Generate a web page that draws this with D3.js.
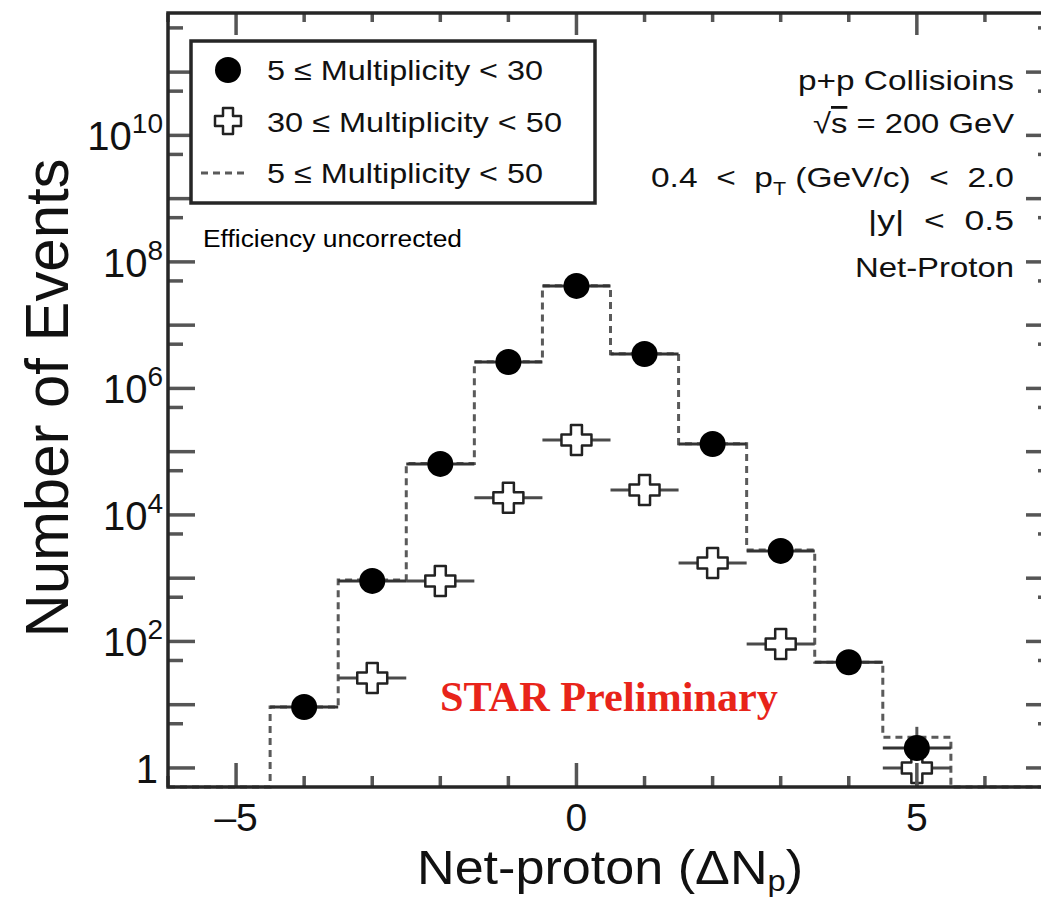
<!DOCTYPE html>
<html>
<head>
<meta charset="utf-8">
<script src="https://cdn.jsdelivr.net/npm/d3@7"></script>
<style>
  html, body { margin: 0; padding: 0; background: #fff; }
  svg { display: block; font-family: "Liberation Sans", Arial, Helvetica, sans-serif; }
  text { white-space: pre; }
</style>
</head>
<body>
<svg id="chart" width="1041" height="900"></svg>
<script>
// Net-proton distribution in p+p collisions, sqrt(s) = 200 GeV
const binCenters = [-4, -3, -2, -1, 0, 1, 2, 3, 4, 5];

// 5 <= Multiplicity < 30 (filled circles)
const lowMultValues = [9.2, 906, 6.4e4, 2.62e6, 4.17e7, 3.5e6, 1.32e5, 2.7e3, 47, 2.07];
const lowMultErrors = [3, 30, 253, 1620, 6460, 1870, 363, 52, 6.9, 2.4];

// 30 <= Multiplicity < 50 (open crosses)
const highMultCenters = [-3, -2, -1, 0, 1, 2, 3, 5];
const highMultValues = [26.5, 906, 1.86e4, 1.53e5, 2.48e4, 1.74e3, 91, 1];
const highMultErrors = [5, 30, 136, 391, 157, 42, 9.5, 1];

// 5 <= Multiplicity < 50 (dashed histogram)
const allMultValues = [9.2, 933, 6.5e4, 2.64e6, 4.19e7, 3.52e6, 1.34e5, 2.8e3, 47, 3.07];

const xTickValues = [-5, 0, 5];
const xMinorTicks = [-6, -5, -4, -3, -2, -1, 0, 1, 2, 3, 4, 5, 6, 7];
const yLabelExponents = [0, 2, 4, 6, 8, 10];
const yMajorExponents = [0, 1, 2, 3, 4, 5, 6, 7, 8, 9, 10, 11];
const yMinorExponents = [0, 1, 2, 3, 4, 5, 6, 7, 8, 9, 10, 11];

const legendLabels = ["5 \u2264 Multiplicity < 30", "30 \u2264 Multiplicity < 50", "5 \u2264 Multiplicity < 50"];

const svg = d3.select("#chart");

const plot = { left: 168, right: 1053, top: 13, bottom: 787 };
const x = d3.scaleLinear().domain([-6, 7]).range([plot.left, plot.right]);
const y = d3.scaleLog().domain([0.5, 8.6e11]).range([plot.bottom, plot.top]);
const yMin = 0.5;

const dataG = svg.append("g");
const frameG = svg.append("g");
const textG = svg.append("g");

// ---- dashed histogram (sum of both classes) ----
const stepPoints = [[-6, yMin]];
binCenters.forEach((c, i) => stepPoints.push([c - 0.5, allMultValues[i]]));
stepPoints.push([5.5, yMin], [7, yMin]);
const stepLine = d3.line()
  .x(d => x(d[0]))
  .y(d => y(d[1]))
  .curve(d3.curveStepAfter);
dataG.append("path")
  .attr("d", stepLine(stepPoints))
  .attr("fill", "none")
  .attr("stroke", "#5a5a5a")
  .attr("stroke-width", 3)
  .attr("stroke-dasharray", "7,5");

// ---- open cross marker path ----
function crossPath(s, a) {
  // s = half size, a = half arm width
  return `M${-a},${-s} L${a},${-s} L${a},${-a} L${s},${-a} L${s},${a} L${a},${a} L${a},${s} L${-a},${s} L${-a},${a} L${-s},${a} L${-s},${-a} L${-a},${-a} Z`;
}
const crossD = crossPath(15, 5.5);
const legendCrossD = crossPath(13, 5);
const circleR = 13;

// ---- crosses: error bars ----
const highG = dataG.append("g");
highMultCenters.forEach((c, i) => {
  const cx = x(c), cy = y(highMultValues[i]);
  highG.append("line")
    .attr("x1", x(c - 0.5)).attr("x2", x(c + 0.5))
    .attr("y1", cy).attr("y2", cy)
    .attr("stroke", "#4a4a4a").attr("stroke-width", 3);
  const lo = highMultValues[i] - highMultErrors[i];
  const hi = highMultValues[i] + highMultErrors[i];
  const yLo = lo > yMin ? y(lo) : plot.bottom;
  highG.append("line")
    .attr("x1", cx).attr("x2", cx)
    .attr("y1", y(hi)).attr("y2", yLo)
    .attr("stroke", "#222").attr("stroke-width", 2.5);
  if (lo <= yMin) {
    highG.append("path")
      .attr("d", `M${cx - 5},${plot.bottom - 10} L${cx + 5},${plot.bottom - 10} L${cx},${plot.bottom} Z`)
      .attr("fill", "#222");
  }
});

// ---- circles: error bars ----
const lowG = dataG.append("g");
binCenters.forEach((c, i) => {
  const cx = x(c), cy = y(lowMultValues[i]);
  lowG.append("line")
    .attr("x1", x(c - 0.5)).attr("x2", x(c + 0.5))
    .attr("y1", cy).attr("y2", cy)
    .attr("stroke", "#333").attr("stroke-width", 3);
  const lo = lowMultValues[i] - lowMultErrors[i];
  const hi = lowMultValues[i] + lowMultErrors[i];
  lowG.append("line")
    .attr("x1", cx).attr("x2", cx)
    .attr("y1", y(hi)).attr("y2", lo > yMin ? y(lo) : plot.bottom)
    .attr("stroke", "#555").attr("stroke-width", 3);
});

// ---- crosses: markers ----
highMultCenters.forEach((c, i) => {
  dataG.append("path")
    .attr("d", crossD)
    .attr("transform", `translate(${x(c)},${y(highMultValues[i])})`)
    .attr("fill", "#fff")
    .attr("stroke", "#222")
    .attr("stroke-width", 2.5)
    .attr("stroke-linejoin", "round");
});

// ---- circles: markers ----
binCenters.forEach((c, i) => {
  dataG.append("circle")
    .attr("cx", x(c)).attr("cy", y(lowMultValues[i]))
    .attr("r", circleR)
    .attr("fill", "#000");
});

// ---- frame and ticks ----
const tickColor = "#555";
const majorLenY = 27, minorLenY = 15, majorLenX = 24, minorLenX = 11;

// x ticks (bottom and top)
xMinorTicks.forEach(v => {
  const major = xTickValues.includes(v);
  const len = major ? majorLenX : minorLenX;
  frameG.append("line")
    .attr("x1", x(v)).attr("x2", x(v))
    .attr("y1", plot.bottom).attr("y2", plot.bottom - len)
    .attr("stroke", tickColor).attr("stroke-width", 3.5);
  frameG.append("line")
    .attr("x1", x(v)).attr("x2", x(v))
    .attr("y1", plot.top).attr("y2", plot.top + len - 2)
    .attr("stroke", tickColor).attr("stroke-width", 3.5);
});

// y ticks (left and right)
yMajorExponents.forEach(k => {
  const yy = y(Math.pow(10, k));
  [[plot.left, plot.left + majorLenY], [plot.right, plot.right - majorLenY]].forEach(([a, b]) => {
    frameG.append("line")
      .attr("x1", a).attr("x2", b).attr("y1", yy).attr("y2", yy)
      .attr("stroke", tickColor).attr("stroke-width", 3.5);
  });
});
yMinorExponents.forEach(k => {
  const v = 5 * Math.pow(10, k);
  if (v >= y.domain()[1]) return;
  const yy = y(v);
  [[plot.left, plot.left + minorLenY], [plot.right, plot.right - minorLenY]].forEach(([a, b]) => {
    frameG.append("line")
      .attr("x1", a).attr("x2", b).attr("y1", yy).attr("y2", yy)
      .attr("stroke", tickColor).attr("stroke-width", 3.5);
  });
});

frameG.append("rect")
  .attr("x", plot.left).attr("y", plot.top)
  .attr("width", plot.right - plot.left).attr("height", plot.bottom - plot.top)
  .attr("fill", "none").attr("stroke", "#262626").attr("stroke-width", 3.5);

// ---- tick labels ----
xTickValues.forEach(v => {
  textG.append("text")
    .attr("x", x(v)).attr("y", 831)
    .attr("text-anchor", "middle")
    .attr("font-size", 39)
    .attr("fill", "#111")
    .text(v < 0 ? "\u2013" + Math.abs(v) : String(v));
});

yLabelExponents.forEach(k => {
  const yy = y(Math.pow(10, k));
  const t = textG.append("text")
    .attr("x", 163).attr("y", yy + 15)
    .attr("text-anchor", "end")
    .attr("font-size", 40)
    .attr("fill", "#111");
  if (k === 0) {
    t.attr("x", 158).text("1");
  } else {
    t.append("tspan").text("10");
    t.append("tspan").attr("font-size", 28).attr("dy", -17).text(String(k));
  }
});

// ---- axis titles ----
textG.append("text")
  .attr("transform", "translate(68,398) rotate(-90)")
  .attr("text-anchor", "middle")
  .attr("font-size", 61)
  .attr("fill", "#111")
  .attr("textLength", 479)
  .attr("lengthAdjust", "spacingAndGlyphs")
  .text("Number of Events");

const xt = textG.append("text")
  .attr("x", 417).attr("y", 884)
  .attr("font-size", 48)
  .attr("fill", "#111")
  .attr("textLength", 386)
  .attr("lengthAdjust", "spacingAndGlyphs");
xt.append("tspan").text("Net-proton (\u0394N");
xt.append("tspan").attr("font-size", 30).attr("dy", 7).text("p");
xt.append("tspan").attr("dy", -7).text(")");

// ---- legend ----
const legend = svg.append("g");
legend.append("rect")
  .attr("x", 191).attr("y", 41).attr("width", 404).attr("height", 162)
  .attr("fill", "#fff").attr("stroke", "#262626").attr("stroke-width", 3.5);
const rowY = [70, 121, 173];
const rowBase = [80, 132, 183];
const rowLen = [276, 295, 276];
legend.append("circle").attr("cx", 228).attr("cy", rowY[0]).attr("r", circleR).attr("fill", "#000");
legend.append("path").attr("d", legendCrossD)
  .attr("transform", `translate(228,${rowY[1]})`)
  .attr("fill", "#fff").attr("stroke", "#222").attr("stroke-width", 2.5)
  .attr("stroke-linejoin", "round");
legend.append("line")
  .attr("x1", 201).attr("x2", 247).attr("y1", rowY[2]).attr("y2", rowY[2])
  .attr("stroke", "#5a5a5a").attr("stroke-width", 3).attr("stroke-dasharray", "7,5");
legendLabels.forEach((lab, i) => {
  legend.append("text")
    .attr("x", 267).attr("y", rowBase[i])
    .attr("font-size", 28)
    .attr("fill", "#111")
    .attr("textLength", rowLen[i])
    .attr("lengthAdjust", "spacingAndGlyphs")
    .text(lab);
});

textG.append("text")
  .attr("x", 203).attr("y", 247)
  .attr("font-size", 23)
  .attr("fill", "#000")
  .attr("textLength", 259)
  .attr("lengthAdjust", "spacingAndGlyphs")
  .text("Efficiency uncorrected");

// ---- collision info ----
const infoX = 1014;
function infoLine(yBase, len) {
  return textG.append("text")
    .attr("x", infoX).attr("y", yBase)
    .attr("text-anchor", "end")
    .attr("font-size", 28)
    .attr("fill", "#111")
    .attr("textLength", len)
    .attr("lengthAdjust", "spacingAndGlyphs");
}
infoLine(90, 216).text("p+p Collisioins");
const sq = infoLine(133, 201);
sq.append("tspan").text("\u221A");
sq.append("tspan").style("text-decoration", "overline").text("s");
sq.append("tspan").text(" = 200 GeV");
const pt = infoLine(187, 363);
pt.append("tspan").text("0.4  <  p");
pt.append("tspan").attr("font-size", 18).attr("dy", 8).text("T");
pt.append("tspan").attr("dy", -8).text(" (GeV/c)  <  2.0");
infoLine(230, 146).text("|y|  <  0.5");
infoLine(277, 159).text("Net-Proton");

// ---- preliminary label ----
textG.append("text")
  .attr("x", 440).attr("y", 711)
  .attr("font-family", "'Liberation Serif', 'Times New Roman', serif")
  .attr("font-weight", "bold")
  .attr("font-size", 42)
  .attr("fill", "#e8241a")
  .attr("textLength", 338)
  .attr("lengthAdjust", "spacingAndGlyphs")
  .text("STAR Preliminary");
</script>
</body>
</html>
